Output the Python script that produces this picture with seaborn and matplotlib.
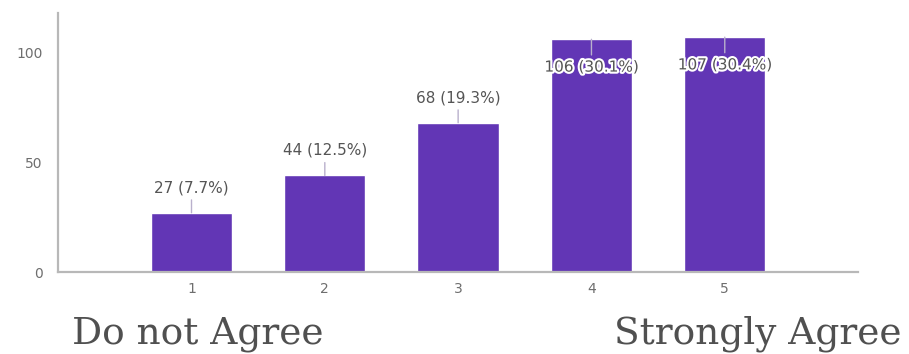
import numpy   as np
import pandas  as pd
import seaborn as sns

from matplotlib import pyplot as plt
from matplotlib import patheffects as pe

sns.set_theme(style="white")
plt.rcParams['font.family'] = ['DejaVu Sans']

scores  = ['1', '2', '3', '4', '5']
counts  = [27, 44, 68, 106, 107]
percent = [7.7, 12.5, 19.3, 30.1, 30.4]

BAR  = '#6236b5'

df = pd.DataFrame({'score': scores, 'count': counts})

fig = plt.figure(figsize=(9.09, 3.54), dpi=100)
ax  = fig.add_axes([0.064, 0.2316, 0.944 - 0.064, 0.9633 - 0.2316])

sns.barplot(data=df, x='score', y='count', color=BAR, saturation=1,
            width=0.61, ax=ax)

ax.set_xlim(-1.0, 5.0)
ax.set_ylim(0, 118)
ax.set_yticks([0, 50, 100])
ax.set_xlabel('')
ax.set_ylabel('')
ax.tick_params(axis='both', length=0, labelsize=10, colors='#6e6e6e')
ax.tick_params(axis='y', pad=11)
ax.tick_params(axis='x', pad=7)

for side in ['top', 'right']:
    ax.spines[side].set_visible(False)
for side in ['left', 'bottom']:
    ax.spines[side].set_color('#b8b8b8')
    ax.spines[side].set_linewidth(1.6)

# data labels with small leader lines
for i, (c, p) in enumerate(zip(counts, percent)):
    label = f'{c} ({p}%)'
    if c < 100:
        off = 18
        fx  = []
    else:
        off = -20
        fx  = [pe.withStroke(linewidth=3, foreground='white')]
    ax.annotate(label, xy=(i, c), xytext=(0, off), textcoords='offset points',
                ha='center', va='center', fontsize=11, color='#555555',
                path_effects=fx,
                arrowprops=dict(arrowstyle='-', color='#b9b0cc', lw=1,
                                shrinkA=1, shrinkB=0))

fig.text(72 / 909, 1 - 343 / 354, 'Do not Agree', family='DejaVu Serif',
         fontsize=27, color='#505050', ha='left', va='baseline')
fig.text(902 / 909, 1 - 343 / 354, 'Strongly Agree', family='DejaVu Serif',
         fontsize=27, color='#505050', ha='right', va='baseline')

fig.savefig('out.png', dpi=100)
